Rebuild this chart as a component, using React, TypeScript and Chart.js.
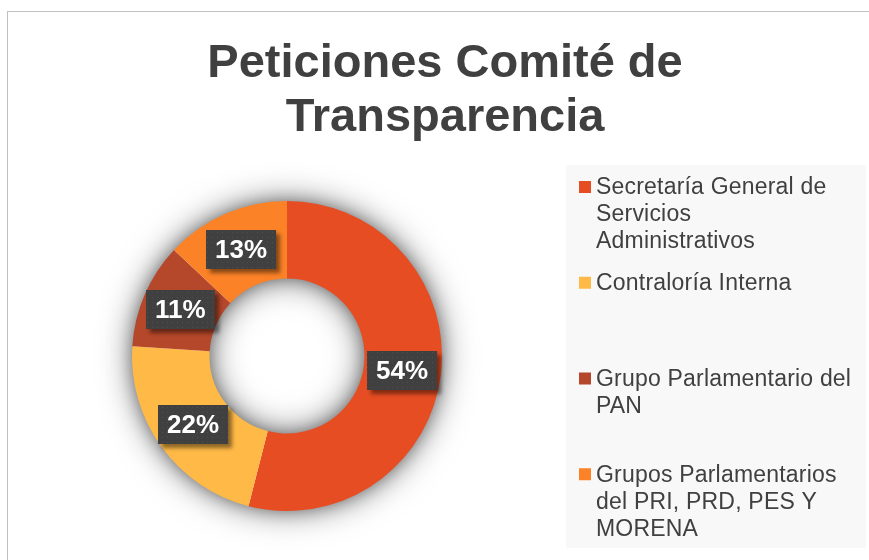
import React, { useEffect, useRef } from "react";
import { Chart, registerables } from "chart.js";

Chart.register(...registerables);

const titleLines = ["Peticiones Comité de", "Transparencia"];
const categories = [
  "Secretaría General de Servicios Administrativos",
  "Contraloría Interna",
  "Grupo Parlamentario del PAN",
  "Grupos Parlamentarios del PRI, PRD, PES Y MORENA",
];
const values = [54, 22, 11, 13];
const colors = ["#E64D22", "#FFB946", "#B5472A", "#FB8227"];

const W = 869;
const H = 560;
const FONT = '"Liberation Sans", Arial, sans-serif';
const TEXT = "#404040";

function wrap(ctx: CanvasRenderingContext2D, text: string, maxW: number): string[] {
  const words = text.split(" ");
  const lines: string[] = [];
  let cur = "";
  for (const w of words) {
    const t = cur ? cur + " " + w : w;
    if (cur && ctx.measureText(t).width > maxW) {
      lines.push(cur);
      cur = w;
    } else cur = t;
  }
  if (cur) lines.push(cur);
  return lines;
}

const framePlugin = {
  id: "frame",
  beforeDraw(chart: any) {
    const ctx: CanvasRenderingContext2D = chart.ctx;
    ctx.save();
    ctx.fillStyle = "#fff";
    ctx.fillRect(0, 0, W, H);
    ctx.strokeStyle = "#C0C0C0";
    ctx.lineWidth = 1;
    ctx.strokeRect(7.5, 11.5, W + 20, H + 20);
    // title
    ctx.fillStyle = TEXT;
    ctx.font = `bold 47px ${FONT}`;
    ctx.textAlign = "center";
    ctx.textBaseline = "alphabetic";
    titleLines.forEach((t, i) => ctx.fillText(t, 445, 77 + i * 54));
    // legend
    const lx = 566, ly = 165, lw = 300, lh = 383;
    ctx.fillStyle = "#F8F8F8";
    ctx.fillRect(lx, ly, lw, lh);
    ctx.font = `23px ${FONT}`;
    (ctx as any).letterSpacing = "0.2px";
    ctx.textAlign = "left";
    ctx.textBaseline = "middle";
    const slot = lh / categories.length;
    categories.forEach((c, i) => {
      const y0 = ly + 22 + i * slot;
      ctx.fillStyle = colors[i];
      ctx.fillRect(579, y0 - 6, 12, 12);
      ctx.fillStyle = TEXT;
      wrap(ctx, c, 258).forEach((line, j) => ctx.fillText(line, 596, y0 + 1 + j * 27));
    });
    ctx.restore();
  },
};

const shadowPlugin = {
  id: "ringShadow",
  beforeDatasetsDraw(chart: any) {
    const meta = chart.getDatasetMeta(0);
    const arc = meta.data[0];
    if (!arc) return;
    const { x, y, outerRadius, innerRadius } = arc.getProps(["x", "y", "outerRadius", "innerRadius"], true);
    const ctx: CanvasRenderingContext2D = chart.ctx;
    ctx.save();
    ctx.fillStyle = "#fff";
    const passes = [
      { c: "rgba(0,0,0,0.55)", b: 34 },
      { c: "rgba(0,0,0,0.35)", b: 16 },
    ];
    passes.forEach((p) => {
      ctx.shadowColor = p.c;
      ctx.shadowBlur = p.b;
      ctx.beginPath();
      ctx.arc(x, y, outerRadius - 1, 0, Math.PI * 2);
      ctx.arc(x, y, innerRadius + 1, 0, Math.PI * 2, true);
      ctx.fill("evenodd");
    });
    ctx.restore();
  },
};

let dotPattern: CanvasPattern | null = null;
function getPattern(ctx: CanvasRenderingContext2D) {
  if (dotPattern) return dotPattern;
  const c = document.createElement("canvas");
  c.width = 5;
  c.height = 5;
  const p = c.getContext("2d")!;
  p.fillStyle = "#404040";
  p.fillRect(0, 0, 5, 5);
  p.fillStyle = "#4E4E4E";
  p.fillRect(2, 2, 1, 1);
  dotPattern = ctx.createPattern(c, "repeat");
  return dotPattern;
}

const labelPlugin = {
  id: "boxLabels",
  afterDatasetsDraw(chart: any) {
    const ctx: CanvasRenderingContext2D = chart.ctx;
    const meta = chart.getDatasetMeta(0);
    const total = values.reduce((a, b) => a + b, 0);
    ctx.save();
    ctx.font = `bold 26px ${FONT}`;
    meta.data.forEach((el: any, i: number) => {
      const pos = el.tooltipPosition();
      const txt = Math.round((values[i] / total) * 100) + "%";
      const tw = ctx.measureText(txt).width;
      const bw = tw + 18;
      const bh = 39;
      const bx = Math.round(pos.x - bw / 2);
      const by = Math.round(pos.y - bh / 2);
      ctx.save();
      ctx.shadowColor = "rgba(0,0,0,0.45)";
      ctx.shadowBlur = 4;
      ctx.shadowOffsetX = 4;
      ctx.shadowOffsetY = 4;
      ctx.fillStyle = "#404040";
      ctx.fillRect(bx, by, bw, bh);
      ctx.restore();
      ctx.fillStyle = getPattern(ctx) || "#404040";
      ctx.fillRect(bx, by, bw, bh);
      ctx.fillStyle = "#fff";
      ctx.textAlign = "center";
      ctx.textBaseline = "middle";
      ctx.fillText(txt, bx + bw / 2, by + bh / 2 + 1);
    });
    ctx.restore();
  },
};

export default function App() {
  const ref = useRef<HTMLCanvasElement>(null);
  useEffect(() => {
    document.body.style.margin = "0";
    const canvas = ref.current!;
    const chart = new Chart(canvas, {
      type: "doughnut",
      data: {
        labels: categories,
        datasets: [
          {
            data: values,
            backgroundColor: colors,
            borderWidth: 0,
          },
        ],
      },
      options: {
        responsive: false,
        animation: false,
        cutout: "50%",
        layout: { padding: { left: 132, right: W - 442, top: 201, bottom: H - 511 } },
        plugins: {
          legend: { display: false },
          tooltip: { enabled: false },
          title: { display: false },
        },
      },
      plugins: [framePlugin, shadowPlugin, labelPlugin],
    });
    return () => chart.destroy();
  }, []);
  return <canvas ref={ref} width={W} height={H} style={{ display: "block", width: W, height: H }} />;
}
